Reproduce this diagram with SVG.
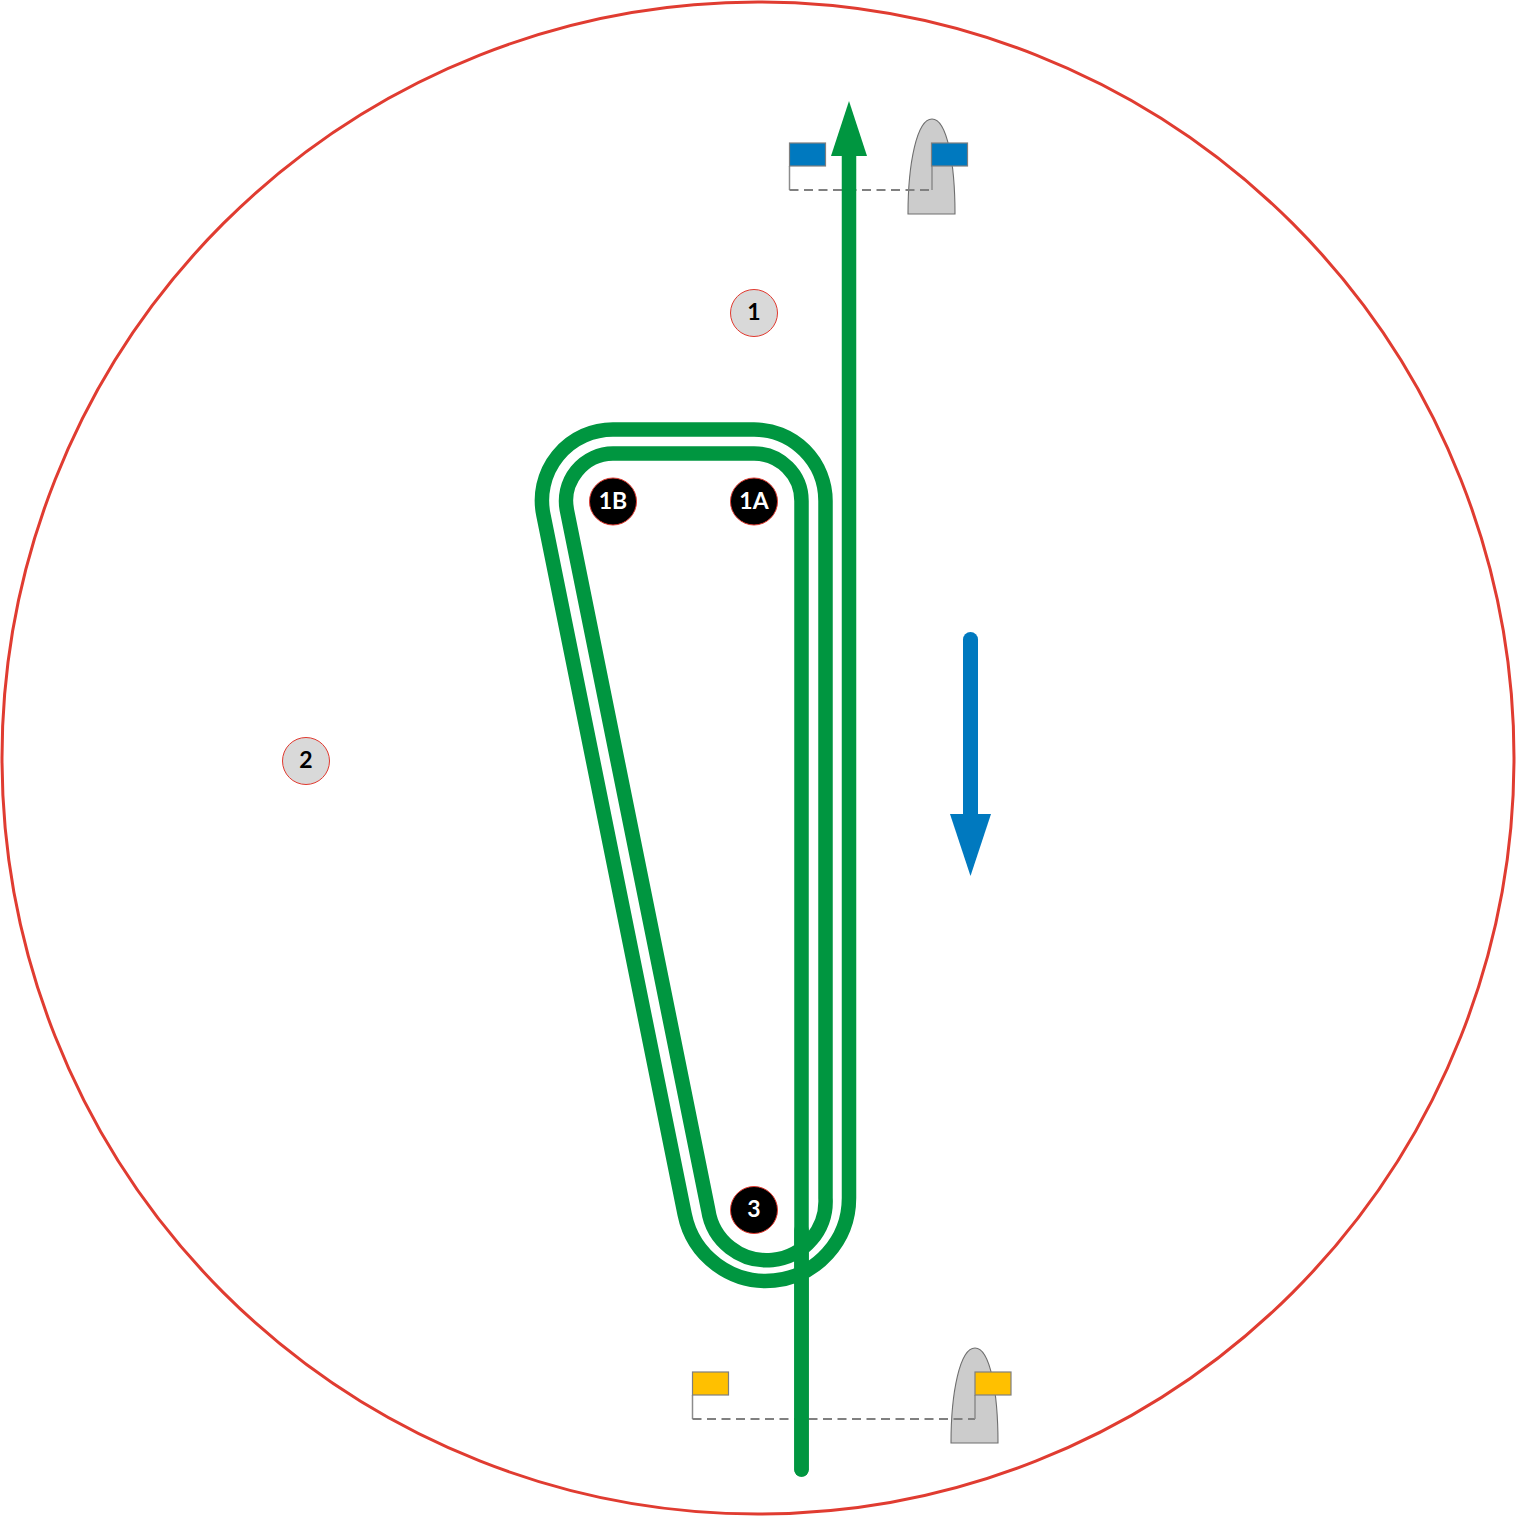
<svg xmlns="http://www.w3.org/2000/svg" width="1516" height="1516" viewBox="0 0 1516 1516">
<style>
.flag{stroke:#7f7f7f;stroke-width:1.2}
.pole{fill:none;stroke:#8c8c8c;stroke-width:1.5}
.dash{fill:none;stroke:#808080;stroke-width:2;stroke-dasharray:9 5.5}
.buoy{fill:#cccccc;stroke:#6e6e6e;stroke-width:1.1}
.mark{stroke:#e0392f;stroke-width:1}
.lbl{font-family:"Lato","Liberation Sans",sans-serif;font-weight:700;font-size:23px;text-anchor:middle}
</style>
<rect width="1516" height="1516" fill="#ffffff"/>
<circle id="boundary" cx="758" cy="758" r="756" fill="none" stroke="#e03c31" stroke-width="3"/>
<g id="gate-top">
<path class="buoy" d="M908 214C908 163 917 119 932 119C947 119 955 163 955 214Z"/>
<path class="pole" d="M789.5 166V190"/><path class="dash" d="M789.5 190H932"/><path class="pole" d="M932 166V190"/>
<rect class="flag" x="789.5" y="143" width="36" height="23" fill="#0079bf"/>
<rect class="flag" x="931.5" y="143" width="36" height="23" fill="#0079bf"/>
</g>
<g id="gate-bottom">
<path class="buoy" d="M951 1443C951 1392 960 1348 975 1348C990 1348 998 1392 998 1443Z"/>
<path class="pole" d="M692.5 1395V1419"/><path class="dash" d="M692.5 1419H975"/><path class="pole" d="M975 1395V1419"/>
<rect class="flag" x="692.5" y="1372" width="36" height="23" fill="#ffc000"/>
<rect class="flag" x="975" y="1372" width="36" height="23" fill="#ffc000"/>
</g>
<g id="connectors">
<path d="M801.5 1469.5V501A47.5 47.5 0 0 0 754 453.5H613A47.5 47.5 0 0 0 566.94 510.31L708.2 1209.7A59 59 0 0 0 825.5 1198V501A71.5 71.5 0 0 0 754 429.5H613A71 71 0 0 0 543.42 515.06L684.66 1214.43A83 83 0 0 0 849 1198V150" fill="none" stroke="#009640" stroke-width="14.5" stroke-linecap="round"/>
<path d="M801.5 1469.5V1230" fill="none" stroke="#009640" stroke-width="14.5" stroke-linecap="round"/>
<polygon points="849,101 867,156 831,156" fill="#009640"/>
<path d="M970.5 639.5V820" fill="none" stroke="#0079bf" stroke-width="15" stroke-linecap="round"/>
<polygon points="950,814 991,814 970.5,876" fill="#0079bf"/>
</g>
<g id="node-1"><circle class="mark" cx="754" cy="313" r="23.5" fill="#d9d9d9"/><text class="lbl" x="754" y="320" fill="#000000">1</text></g>
<g id="node-2"><circle class="mark" cx="306" cy="761" r="23.5" fill="#d9d9d9"/><text class="lbl" x="306" y="768" fill="#000000">2</text></g>
<g id="node-1B"><circle class="mark" cx="613" cy="501.5" r="23.5" fill="#000000"/><text class="lbl" x="613" y="509" fill="#ffffff">1B</text></g>
<g id="node-1A"><circle class="mark" cx="754" cy="501.5" r="23.5" fill="#000000"/><text class="lbl" x="754" y="509" fill="#ffffff">1A</text></g>
<g id="node-3"><circle class="mark" cx="754" cy="1210" r="23.5" fill="#000000"/><text class="lbl" x="754" y="1217" fill="#ffffff">3</text></g>
</svg>
